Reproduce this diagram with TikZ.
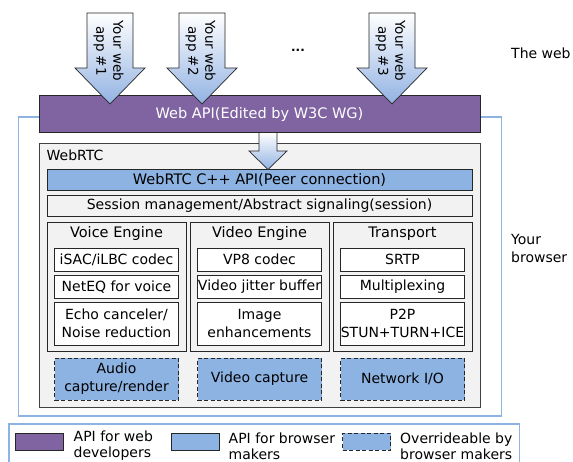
\documentclass[tikz,border=0pt]{standalone}
\usepackage{fontspec}
\setmainfont{DejaVu Sans}
\usetikzlibrary{positioning}

\definecolor{apipurple}{HTML}{8064A2}
\definecolor{apiblue}{HTML}{8DB3E2}
\definecolor{browserline}{HTML}{8DB3E2}
\definecolor{panelgray}{HTML}{F2F2F2}
\definecolor{edge}{HTML}{262626}
\definecolor{frameedge}{HTML}{404040}
\definecolor{arrowblue}{HTML}{92B2E2}

\tikzset{
  txt/.style={font=\fontsize{14}{18}\selectfont, inner sep=0pt, align=center},
  panel/.style={draw=edge, line width=1pt, fill=panelgray, inner sep=0pt, minimum width=#1},
  panel/.default=425pt,
  webbar/.style={draw=edge, line width=1pt, fill=apipurple, text=white, txt},
  rtcbar/.style={draw=edge, line width=1pt, fill=apiblue, txt},
  part/.style={draw=edge, line width=1pt, fill=white, txt, minimum width=124pt},
  swap/.style={draw=edge, line width=1pt, dash pattern=on 4pt off 2.5pt, fill=apiblue, txt, minimum width=124pt, minimum height=42pt},
  appflow/.style={draw=edge, line width=0.7pt, top color=white, bottom color=arrowblue},
  applabel/.style={rotate=-90, font=\fontsize{13.5}{17}\selectfont, align=center, inner sep=0pt},
  legendtxt/.style={font=\fontsize{14}{16}\selectfont, align=left, inner sep=0pt, anchor=west},
}

\begin{document}
\begin{tikzpicture}[x=1pt, y=-1pt]
\useasboundingbox (0,0) rectangle (573,461);

% browser frame
\draw[browserline, line width=1.1pt] (18.5,117) rectangle (501.5,416);

% web API bar
\node[webbar, minimum width=441pt, minimum height=37pt, font=\fontsize{14.5}{18}\selectfont] (webapi) at (259.5,114) {Web API(Edited by W3C WG)};

% applications feeding the web API
\foreach \cx/\n in {110/1, 202/2, 392/3}{
  \draw[appflow] (\cx-23,13) -- (\cx+23,13) -- (\cx+23,68) -- (\cx+35,68)
     -- (\cx,104) -- (\cx-35,68) -- (\cx-23,68) -- cycle;
  \node[applabel] (app\n) at (\cx-1.5,51) {Your web\\app \#\n};
}
\node[font=\bfseries\fontsize{12}{14}\selectfont, inner sep=0pt] (dots) at (298,50) {...};

% WebRTC panel
\node[draw=frameedge, line width=1pt, fill=panelgray, minimum width=441pt, minimum height=264pt, inner sep=0pt] (webrtc) at (259.5,275) {};
\node[txt, anchor=west] (rtclabel) at (46.5,155) {WebRTC};

\node[rtcbar, minimum width=425pt, minimum height=20.5pt, font=\fontsize{14.5}{18}\selectfont] (cppapi) at (259.5,179.75) {WebRTC C++ API(Peer connection)};
\node[panel, minimum height=21.5pt, txt] (session) at (259.5,205.75) {Session management/Abstract signaling(session)};

% engines
\foreach \cx/\name/\title in {116.5/voice/Voice Engine, 259.5/video/Video Engine, 402.5/transport/Transport}{
  \node[panel=139pt, minimum height=129pt] (\name) at (\cx,286.5) {};
  \node[txt, font=\fontsize{14.5}{18}\selectfont] (\name title) at (\cx,233.5) {\title};
}

\node[part, minimum height=23.5pt] (isac) at (116.5,259.75) {iSAC/iLBC codec};
\node[part, minimum height=23.5pt] (neteq) at (116.5,286.75) {NetEQ for voice};
\node[part, minimum height=43pt] (echo) at (116.5,323.5) {Echo canceler/\\Noise reduction};

\node[part, minimum height=23.5pt] (vp8) at (259.5,259.75) {VP8 codec};
\node[part, minimum height=23.5pt] (jitter) at (259.5,286.75) {Video jitter buffer};
\node[part, minimum height=43pt] (image) at (259.5,323.5) {Image\\enhancements};

\node[part, minimum height=23.5pt] (srtp) at (402.5,259.75) {SRTP};
\node[part, minimum height=23.5pt] (mux) at (402.5,286.75) {Multiplexing};
\node[part, minimum height=43pt] (p2p) at (402.5,323.5) {P2P\\STUN+TURN+ICE};

\node[swap] (audio) at (116.5,379) {Audio\\capture/render};
\node[swap] (vcap) at (259.5,379) {Video capture};
\node[swap] (netio) at (402.5,379) {Network I/O};

% hand-over from the web API into the C++ API
\draw[appflow] (259,132.5) -- (277,132.5) -- (277,151) -- (287,151)
   -- (268,169.5) -- (249,151) -- (259,151) -- cycle;

% side captions
\node[txt, anchor=west] (web) at (511,53) {The web};
\node[txt, anchor=west, align=left, font=\fontsize{14}{17.5}\selectfont] (browser) at (511,248.5) {Your\\browser};

% legend
\draw[browserline, line width=1.1pt] (9,424) rectangle (519.5,480);
\node[draw=edge, line width=1pt, fill=apipurple, minimum width=47.5pt, minimum height=17pt, inner sep=0pt] (keyweb) at (39.25,441.5) {};
\node[legendtxt] (keywebtxt) at (73.5,446) {API for web\\developers};
\node[draw=edge, line width=1pt, fill=apiblue, minimum width=48pt, minimum height=17pt, inner sep=0pt] (keybrowser) at (195.5,441.5) {};
\node[legendtxt] (keybrowsertxt) at (228.5,446) {API for browser\\makers};
\node[swap, minimum width=48pt, minimum height=17pt] (keyswap) at (366.5,441.5) {};
\node[legendtxt] (keyswaptxt) at (400,446) {Overrideable by\\browser makers};
\end{tikzpicture}
\end{document}
